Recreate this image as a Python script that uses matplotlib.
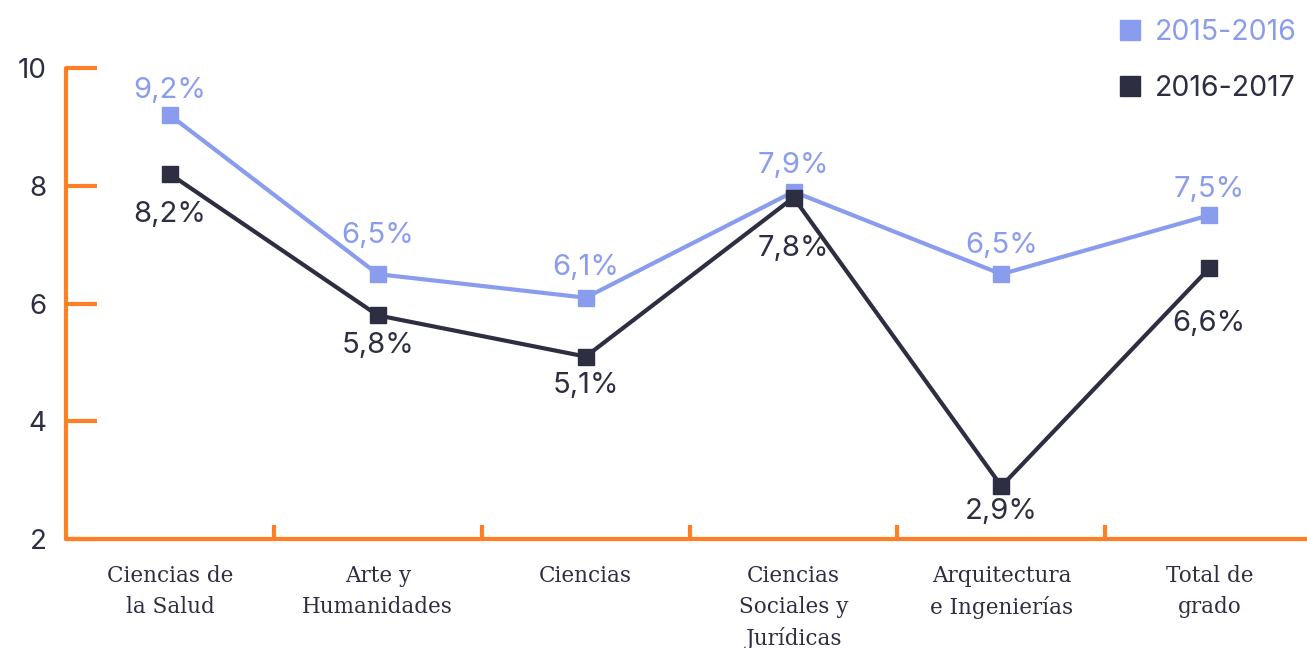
import matplotlib.pyplot as plt
from matplotlib.lines import Line2D

categories = ["Ciencias de\nla Salud", "Arte y\nHumanidades", "Ciencias",
              "Ciencias\nSociales y\nJurídicas", "Arquitectura\ne Ingenierías",
              "Total de\ngrado"]
serie_2015 = [9.2, 6.5, 6.1, 7.9, 6.5, 7.5]
serie_2016 = [8.2, 5.8, 5.1, 7.8, 2.9, 6.6]
labels_2015 = ["9,2%", "6,5%", "6,1%", "7,9%", "6,5%", "7,5%"]
labels_2016 = ["8,2%", "5,8%", "5,1%", "7,8%", "2,9%", "6,6%"]
yticks = [2, 4, 6, 8, 10]

# label offsets from the marker centre, in points (placed to dodge the lines)
offs_2015 = [18, 28, 22, 19, 20.5, 18.5]
offs_2016 = [-29, -22, -21, -37, -18.5, -40]

BLUE = "#8a9ced"
DARK = "#2d2e42"
ORANGE = "#ff7f27"
SANS = "Inter"
SERIF = "DejaVu Serif"

fig = plt.figure(figsize=(13.07, 6.48), dpi=100)
ax = fig.add_axes([0.0505, 0.168, 0.9495, 0.727])

x = list(range(len(categories)))
ax.plot(x, serie_2015, color=BLUE, lw=3, marker="s", ms=12, zorder=3)
ax.plot(x, serie_2016, color=DARK, lw=3, marker="s", ms=12, zorder=4)

for xi, v, t, o in zip(x, serie_2015, labels_2015, offs_2015):
    ax.annotate(t, (xi, v), xytext=(0, o), textcoords="offset points",
                ha="center", va="center", fontsize=21, color=BLUE, family=SANS)
for xi, v, t, o in zip(x, serie_2016, labels_2016, offs_2016):
    ax.annotate(t, (xi, v), xytext=(0, o), textcoords="offset points",
                ha="center", va="center", fontsize=21, color=DARK, family=SANS)

ax.set_xlim(-0.5, 5.47)
ax.set_ylim(2, 10)

for s in ["top", "right"]:
    ax.spines[s].set_visible(False)
for s in ["left", "bottom"]:
    ax.spines[s].set_color(ORANGE)
    ax.spines[s].set_linewidth(3)
    ax.spines[s].set_capstyle("round")

ax.set_yticks(yticks)
ax.set_yticklabels([str(v) for v in yticks], fontsize=20, color=DARK, family=SANS)
ax.tick_params(axis="y", direction="in", length=22, width=3, color=ORANGE, pad=14)

# category labels centred on points, tick marks between categories
ax.set_xticks([xi + 0.5 for xi in x[:-1]])
ax.set_xticklabels([])
ax.tick_params(axis="x", direction="in", length=10, width=3, color=ORANGE)
for xi, c in zip(x, categories):
    ax.text(xi, -0.055, c, transform=ax.get_xaxis_transform(), ha="center", va="top",
            fontsize=15.5, color=DARK, family=SERIF, linespacing=1.5)

handles = [Line2D([], [], ls="none", marker="s", ms=15, color=BLUE),
           Line2D([], [], ls="none", marker="s", ms=15, color=DARK)]
leg = fig.legend(handles, ["2015-2016", "2016-2017"], loc="upper right",
                 bbox_to_anchor=(1.012, 1.01), frameon=False, handlelength=0.8,
                 handletextpad=0.5, labelspacing=1.0,
                 prop={"family": SANS, "size": 20.5})
leg.get_texts()[0].set_color(BLUE)
leg.get_texts()[1].set_color(DARK)

fig.savefig("out.png", dpi=100)
